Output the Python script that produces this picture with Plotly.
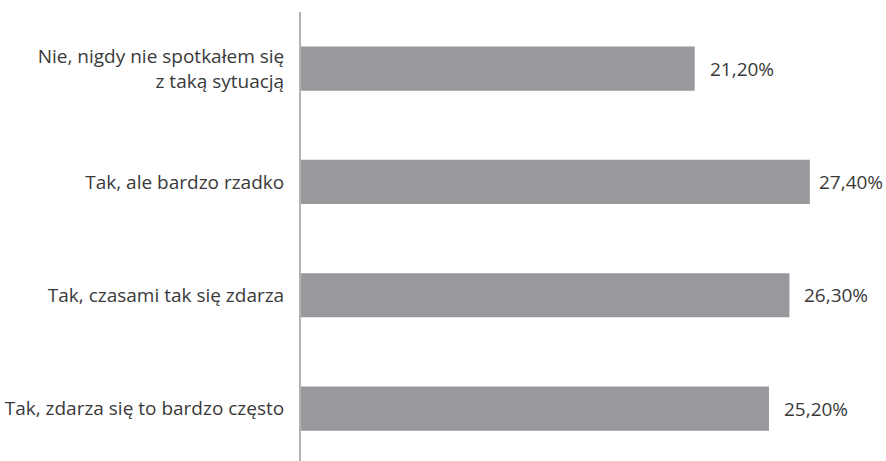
import plotly.graph_objects as go

# Survey answers (top to bottom) and their shares in percent
categories = [
    "Nie, nigdy nie spotkałem się<br>z taką sytuacją",
    "Tak, ale bardzo rzadko",
    "Tak, czasami tak się zdarza",
    "Tak, zdarza się to bardzo często",
]
shares = [21.2, 27.4, 26.3, 25.2]

BAR_COLOR = "#97999c"
TEXT_COLOR = "#3a3a3a"
FONT = "Open Sans, DejaVu Sans, sans-serif"
FONT_SIZE = 19

WIDTH, HEIGHT = 886, 461
MARGIN_L = 301
X_MAX = 31.5
PX_PER_UNIT = (WIDTH - MARGIN_L) / X_MAX
LABEL_W = 66  # approximate rendered width of a value label
LABEL_GAP = 13

fig = go.Figure(
    go.Bar(
        x=shares,
        y=categories,
        orientation="h",
        marker=dict(color=BAR_COLOR, line=dict(width=0)),
        hoverinfo="skip",
    )
)

# Value labels placed just right of each bar end, nudged in if near the edge
for cat, val in zip(categories, shares):
    bar_end_px = MARGIN_L + val * PX_PER_UNIT
    shift = min(LABEL_GAP, WIDTH - 3 - LABEL_W - bar_end_px)
    fig.add_annotation(
        x=val,
        y=cat,
        xref="x",
        yref="y",
        text=f"{val:.2f}".replace(".", ",") + "%",
        showarrow=False,
        xanchor="left",
        yanchor="middle",
        xshift=shift,
        font=dict(family=FONT, size=FONT_SIZE, color=TEXT_COLOR),
    )

fig.update_layout(
    width=WIDTH,
    height=HEIGHT,
    margin=dict(l=MARGIN_L, r=0, t=12, b=0),
    paper_bgcolor="white",
    plot_bgcolor="white",
    bargap=0.61,
    showlegend=False,
    font=dict(family=FONT, size=FONT_SIZE, color=TEXT_COLOR),
    xaxis=dict(
        range=[0, X_MAX],
        visible=False,
        fixedrange=True,
    ),
    yaxis=dict(
        type="category",
        range=[3.463, -0.5],
        showline=True,
        linecolor="#b3b3b3",
        linewidth=2,
        showgrid=False,
        zeroline=False,
        ticks="",
        ticklabelstandoff=11,
        tickfont=dict(family=FONT, size=FONT_SIZE, color=TEXT_COLOR),
        fixedrange=True,
    ),
)

fig.write_html("out.html")
